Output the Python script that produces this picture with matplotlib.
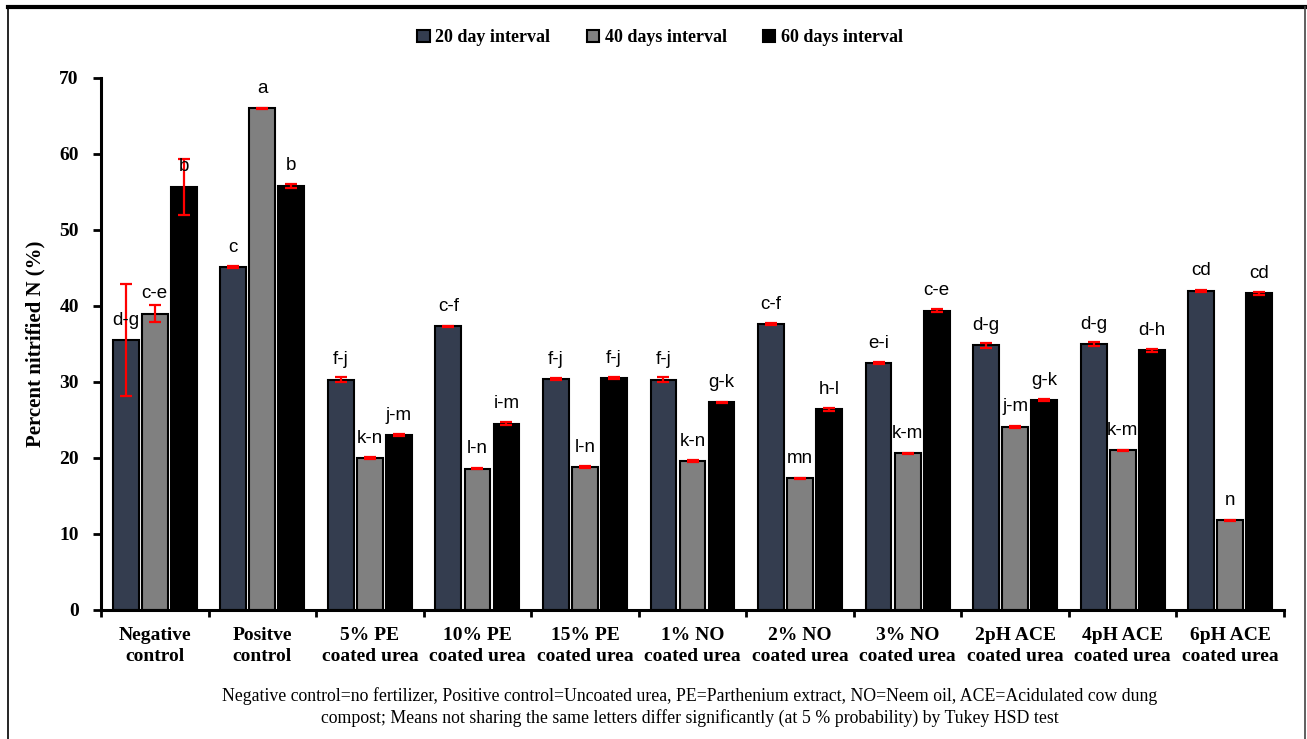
import numpy as np
import matplotlib.pyplot as plt
from matplotlib.lines import Line2D

# treatments on the x axis
categories = ["Negative\ncontrol", "Positve\ncontrol", "5% PE\ncoated urea", "10% PE\ncoated urea",
              "15% PE\ncoated urea", "1% NO\ncoated urea", "2% NO\ncoated urea", "3% NO\ncoated urea",
              "2pH ACE\ncoated urea", "4pH ACE\ncoated urea", "6pH ACE\ncoated urea"]

series_names = ["20 day interval", "40 days interval", "60 days interval"]

day20 = [35.5, 45.1, 30.3, 37.3, 30.4, 30.3, 37.6, 32.5, 34.8, 35.0, 42.0]
day40 = [39.0, 66.0, 20.0, 18.6, 18.8, 19.6, 17.3, 20.6, 24.1, 21.0, 11.8]
day60 = [55.7, 55.8, 23.0, 24.5, 30.5, 27.3, 26.4, 39.4, 27.6, 34.2, 41.7]

err20 = [7.4, 0.1, 0.3, 0.1, 0.1, 0.3, 0.1, 0.1, 0.3, 0.3, 0.1]
err40 = [1.1, 0.1, 0.1, 0.1, 0.1, 0.1, 0.1, 0.1, 0.1, 0.1, 0.1]
err60 = [3.7, 0.3, 0.1, 0.2, 0.1, 0.1, 0.2, 0.2, 0.1, 0.2, 0.2]

let20 = ["d-g", "c", "f-j", "c-f", "f-j", "f-j", "c-f", "e-i", "d-g", "d-g", "cd"]
let40 = ["c-e", "a", "k-n", "l-n", "l-n", "k-n", "mn", "k-m", "j-m", "k-m", "n"]
let60 = ["b", "b", "j-m", "i-m", "f-j", "g-k", "h-l", "c-e", "g-k", "d-h", "cd"]

colors = ["#343d4f", "#808080", "#000000"]

fig = plt.figure(figsize=(13.07, 7.39), dpi=100)
ax = fig.add_axes([0.0773, 0.1746, 0.9051, 0.7199])

x = np.arange(len(categories))
width = 0.24
step = 0.27

all_vals = [day20, day40, day60]
all_errs = [err20, err40, err60]
all_lets = [let20, let40, let60]

for i in range(3):
    pos = x + (i - 1) * step
    ax.bar(pos, all_vals[i], width=width, color=colors[i], edgecolor="black", linewidth=1.5,
           label=series_names[i], zorder=2)
    ax.errorbar(pos, all_vals[i], yerr=all_errs[i], fmt="none", ecolor="red", elinewidth=1.6,
                capsize=4, capthick=1.6, zorder=3)
    for p, v, s in zip(pos, all_vals[i], all_lets[i]):
        ax.text(p, v + 1.5, s, ha="center", va="bottom", fontsize=13.5, family="Liberation Sans")

ax.set_xlim(-0.5, len(categories) - 0.5)
ax.set_ylim(0, 70)
ax.set_yticks(np.arange(0, 71, 10))
ax.set_xticks(np.arange(-0.5, len(categories), 1))
ax.set_xticklabels([])
ax.set_xticks(x, minor=True)
ax.set_xticklabels(categories, minor=True, fontsize=14, fontweight="bold", family="Liberation Serif",
                   linespacing=1.3)
ax.tick_params(axis="x", which="minor", length=0, pad=12)
ax.tick_params(axis="x", which="major", length=5, width=2, direction="out")
ax.tick_params(axis="y", length=6, width=2, direction="out", pad=10)
for lab in ax.get_yticklabels():
    lab.set_fontweight("bold")
    lab.set_family("Liberation Serif")
    lab.set_fontsize(14)

for side in ["top", "right"]:
    ax.spines[side].set_visible(False)
ax.spines["left"].set_linewidth(2.2)
ax.spines["bottom"].set_linewidth(2.2)

ax.set_ylabel("Percent nitrified N (%)", fontsize=15, fontweight="bold", family="Liberation Serif", labelpad=10)

fig.legend(loc="center", bbox_to_anchor=(0.505, 0.949), ncol=3, frameon=False,
           prop={"family": "Liberation Serif", "weight": "bold", "size": 13},
           handlelength=0.7, handleheight=0.7, handletextpad=0.3, columnspacing=2.0)

fig.text(0.528, 0.043, "Negative control=no fertilizer, Positive control=Uncoated urea, PE=Parthenium extract, NO=Neem oil, ACE=Acidulated cow dung\ncompost; Means not sharing the same letters differ significantly (at 5 % probability) by Tukey HSD test",
         ha="center", va="center", fontsize=12.8, family="Liberation Serif", linespacing=1.3)

# frame around the figure
fig.add_artist(Line2D([0.006, 1.0], [0.990, 0.990], color="black", lw=3, transform=fig.transFigure))
fig.add_artist(Line2D([0.0065, 0.0065], [0.0, 0.991], color="black", lw=1.2, transform=fig.transFigure))
fig.add_artist(Line2D([0.9985, 0.9985], [0.0, 0.991], color="#444444", lw=1.2, transform=fig.transFigure))

fig.savefig("out.png", dpi=100)
